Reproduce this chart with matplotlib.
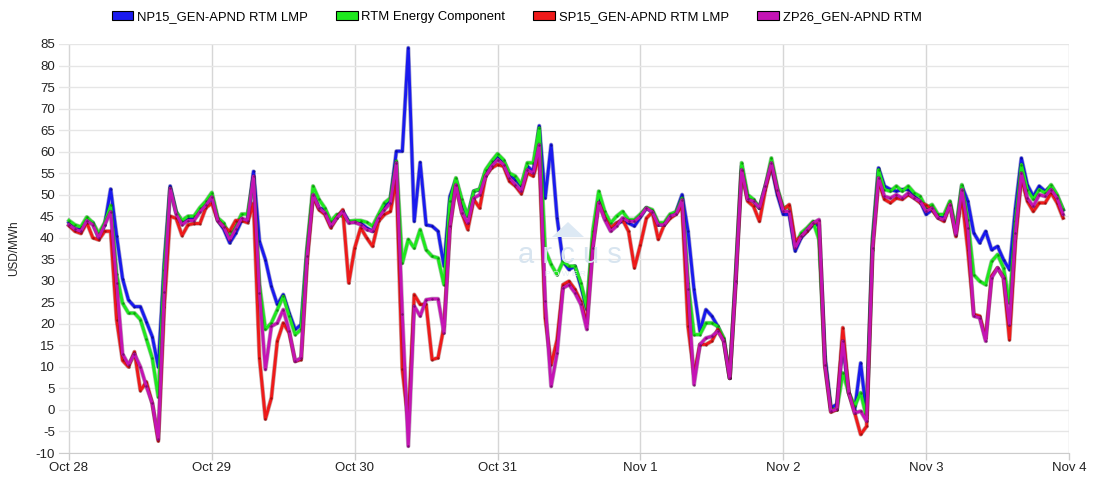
import matplotlib
matplotlib.use('Agg')
import matplotlib.pyplot as plt
import matplotlib.patheffects as pe
from matplotlib.patches import Patch, Polygon
import numpy as np

plt.rcParams['font.family'] = ['Liberation Sans', 'DejaVu Sans']
plt.rcParams['axes.unicode_minus'] = False

day_labels = ['Oct 28', 'Oct 29', 'Oct 30', 'Oct 31', 'Nov 1', 'Nov 2', 'Nov 3', 'Nov 4']
series_names = ['NP15_GEN-APND RTM LMP', 'RTM Energy Component',
                'SP15_GEN-APND RTM LMP', 'ZP26_GEN-APND RTM']

# hourly values, Oct 28 00:00 .. Nov 3 23:00
np15 = [
    43.5, 42, 42, 44, 43.5, 40, 43, 51.3, 40.5, 30.5, 25.5, 24, 24, 20.5, 17, 10, 34, 52, 46, 43.5, 44.5, 44.5, 46.5, 47.5,
    49.5, 44, 42, 38.8, 41, 44, 44, 55.4, 39.2, 34.9, 28.7, 24.5, 26.8, 22.5, 18.7, 19.8, 37.2, 50, 46.9, 46.5, 43.4, 45, 46.1, 43.8,
    43.6, 43.4, 42.3, 41.5, 45, 47.3, 48.9, 60.1, 60.1, 84.1, 43.8, 57.5, 43, 42.7, 41.5, 33.4, 49.6, 53.5, 48.1, 45, 50.8, 51.2, 55.4, 57.4,
    59.1, 57.8, 54.7, 53.5, 52, 56.6, 55.4, 66, 49.2, 61.6, 44.6, 34.5, 32.6, 33.4, 28.7, 23.3, 39.6, 48.9, 45, 41.9, 43.4, 43.8, 43.4, 42.7,
    44.8, 46.9, 46, 43, 43, 45, 46, 50, 41.5, 28, 18.3, 23.3, 21.8, 19.4, 16.3, 7.4, 30.7, 56.6, 49.2, 48.5, 46.9, 52, 56.6, 50,
    45.4, 45.4, 36.9, 40, 41.5, 43, 43, 12.5, 0.5, 1.3, 15.6, 4, 0.1, 10.9, -1.1, 39.6, 56.2, 52, 51.2, 50.8, 51.2, 51.2, 49.6, 48.5,
    45.4, 46.5, 45, 44.6, 48.1, 41.1, 52, 48.5, 41.1, 38.8, 41.5, 37.2, 38, 34.9, 32.6, 46.9, 58.5, 52.3, 49.6, 52, 50.8, 52, 49.6, 46.5,
]
energy = [
    44, 43, 42.5, 44.8, 43.5, 41, 43.5, 47.5, 31.5, 24.8, 22.5, 22.5, 21, 16.5, 12, 3, 32.5, 51.5, 46, 44, 45, 45, 47, 48.5,
    50.5, 44.6, 43.4, 40.3, 42.5, 45.5, 45.5, 53.9, 29.1, 18.7, 20.2, 23.3, 26.4, 21.8, 17.5, 18.7, 37.6, 52, 48.9, 46.9, 43.8, 45.4, 45, 43.8,
    44, 44, 43.6, 42.7, 45.4, 48.1, 49.2, 57.8, 34.1, 39.6, 37.6, 41.9, 37.2, 35.7, 35.3, 29.1, 48.5, 53.9, 48.9, 45, 50.8, 51.3, 55.8, 57.8,
    59.5, 58.1, 55, 54.3, 52.3, 57.4, 57.4, 65.5, 37.2, 33.8, 31.4, 34.5, 33.4, 33.4, 29.5, 23.7, 41.5, 50.8, 46.1, 43.4, 45, 46.1, 44.2, 44.2,
    45.5, 47, 46.5, 43.5, 43.5, 45.5, 46, 49.2, 29.5, 17.5, 17.5, 20.2, 20.2, 19.4, 16.7, 7.4, 31.1, 57.4, 50, 48.9, 46.9, 52, 58.5, 51.6,
    46.9, 47.3, 38, 41.1, 42.3, 43.8, 39.6, 10.9, 0.1, 0.1, 8.6, 4, 0.9, 4, -1.8, 39.2, 55.8, 51.2, 50.8, 52, 50.8, 52, 50.4, 49.6,
    46.9, 47.7, 45.4, 45.4, 48.5, 41.9, 52.3, 44.2, 31.4, 29.9, 29.1, 34.5, 36.1, 33, 24.9, 43.8, 57, 51.2, 48.9, 51.2, 50.4, 52.3, 50, 46.6,
]
sp15 = [
    42.8, 41.5, 41, 43.5, 40, 39.5, 41.5, 41.5, 21, 11.5, 10, 13.5, 4.5, 6.5, 1.5, -7.2, 24, 45, 44.5, 40.5, 43, 43.3, 43.3, 47,
    48, 44, 42.5, 41.5, 44, 44, 43.5, 48, 12.1, -2.1, 2.8, 16, 20.2, 17.9, 11.3, 11.7, 34.2, 49.6, 46.5, 45.4, 42.3, 44.6, 46.5, 29.5,
    37.6, 42.3, 40, 38, 43.8, 45.4, 46.1, 53.5, 9.4, -3, 26.8, 24.5, 24.5, 11.7, 12.1, 19.4, 42.3, 52, 45.8, 41.9, 48.9, 46.9, 54.3, 56.2,
    57, 56.6, 53.1, 52, 50.2, 55, 54.3, 58.9, 21.4, 10.5, 16.3, 29.1, 29.9, 28, 25.2, 20.2, 38, 48.1, 44.6, 42.3, 43.4, 44.2, 41.5, 33,
    38.4, 44.5, 46, 39.6, 43, 44.5, 45.5, 47.3, 19.4, 8.2, 15.2, 15.2, 16, 18.7, 16, 7.4, 29.5, 55.4, 48.5, 47.3, 43.8, 51.2, 57, 50.8,
    46.5, 47.7, 39.2, 40.3, 41.5, 43.4, 43.8, 10.2, -0.5, 0.1, 19.1, 4, -0.7, -5.7, -3.8, 37.2, 53.1, 48.9, 48.1, 49.2, 48.9, 50, 49.2, 48.1,
    47.6, 46.5, 44.6, 43.8, 47.7, 40.3, 49.6, 37.2, 22.2, 21.8, 16.7, 31.1, 33, 30.7, 16.3, 39.2, 53.9, 48.5, 46.1, 48.1, 48.1, 50.4, 48.1, 44.6,
]
zp26 = [
    43, 42, 41.5, 44, 43, 40, 43, 46, 29.5, 13, 10.5, 13, 10, 5.5, 1.5, -6.8, 27.5, 51.5, 45.5, 43, 44, 44, 46, 47.5,
    49.5, 44, 42.5, 39.5, 42, 44.5, 44, 54.3, 27.2, 9.4, 19.4, 20.2, 23.3, 18.3, 11.3, 12.1, 35.7, 50, 46.9, 45.8, 42.7, 44.6, 46.1, 43.4,
    43.6, 43, 41.9, 41.5, 44.6, 46.5, 48.1, 57.4, 22.2, -8.4, 24.1, 21.8, 25.6, 25.8, 25.8, 17.9, 42.7, 52.3, 45.8, 43.4, 49.2, 50, 54.3, 56.6,
    58.1, 57, 53.9, 52.3, 50.8, 55.8, 55, 61.6, 25.2, 5.5, 13.2, 28.3, 29.1, 27.2, 24.5, 18.7, 37.6, 48.1, 44.2, 41.5, 42.7, 44.6, 43.8, 43.8,
    45, 46.9, 46, 43, 43, 45, 45.5, 48.8, 28, 5.9, 15.2, 16.7, 17.1, 18.3, 16, 7.4, 29.9, 55.8, 48.9, 48.5, 46.9, 52, 57.4, 51.2,
    46.1, 46.1, 37.6, 40.3, 41.9, 43.4, 44.2, 10.5, -0.3, 0.2, 16, 4, -0.7, -0.3, -2.6, 37.6, 53.9, 49.6, 49.2, 50, 49.2, 50.4, 49.2, 48.5,
    46.1, 46.9, 44.6, 44.2, 47.7, 40.7, 51.2, 42.3, 21.8, 21.4, 16, 30.7, 33, 30.7, 19.8, 41.1, 55, 49.2, 47.3, 50, 49.6, 51.2, 49.2, 45.4,
]

colors = ['#1a1aee', '#1ee81e', '#ee1a1a', '#c414b4']
darks = ['#00006a', '#005a00', '#6a0000', '#4a0042']

hours = np.arange(len(np15))

fig = plt.figure(figsize=(11, 5), dpi=100)
ax = fig.add_axes([59 / 1100, 47 / 500, 1010 / 1100, 409 / 500])

# watermark (behind data)
tri = Polygon([[552 / 1100, 1 - 237 / 500], [568 / 1100, 1 - 222 / 500], [584 / 1100, 1 - 237 / 500]],
              closed=True, transform=fig.transFigure, facecolor='#dde9f4', edgecolor='none', zorder=0)
fig.patches.append(tri)
fig.text(570 / 1100, 1 - 255 / 500, 'a r c u s', color='#d8e5f0', fontsize=21, ha='center', va='center', zorder=0)
fig.text(565 / 1100, 1 - 274 / 500, 'P O W E R', color='#e6eef5', fontsize=6, ha='center', va='center', zorder=0)

ax.patch.set_alpha(0)

for i, (vals, col, dk) in enumerate(zip([np15, energy, sp15, zp26], colors, darks)):
    ax.plot(hours, vals, color=col, lw=2.1, zorder=3 + i, solid_joinstyle='round',
            path_effects=[pe.Stroke(linewidth=3.1, foreground=dk, alpha=0.35), pe.Normal()])
    ax.plot(hours, vals, linestyle='none', marker='o', ms=1.8, mfc=dk, mec='none',
            alpha=0.55, zorder=3.5 + i)

ax.set_xlim(-10 / 5.96, 168)
ax.set_ylim(-10, 85)
ax.set_yticks(np.arange(-10, 86, 5))
ax.set_xticks(np.arange(0, 169, 24))
ax.set_xticklabels(day_labels)

ax.grid(axis='y', color='#e6e6e6', lw=1, zorder=0)
ax.grid(axis='x', color='#d6d6d6', lw=1, zorder=0)
ax.set_axisbelow(True)
for s in ['top', 'right', 'left']:
    ax.spines[s].set_visible(False)
ax.spines['bottom'].set_color('#cccccc')
ax.tick_params(axis='y', length=0, labelsize=9.5, pad=3, colors='#222222')
ax.tick_params(axis='x', length=5, width=1, color='#cccccc', labelsize=9.5, pad=1.5, labelcolor='#222222')

fig.text(8 / 1100, 1 - 248 / 500, 'USD/MWh', rotation=90, va='center', ha='left',
         fontsize=8.5, color='#222222')

handles = [Patch(facecolor=c, edgecolor='black', linewidth=0.8) for c in colors]
fig.legend(handles, series_names, loc='upper left', bbox_to_anchor=(111.5 / 1100, 1 - 11 / 500), ncol=4,
           frameon=False, fontsize=9.4, handlelength=1.68, handleheight=0.6,
           handletextpad=0.28, columnspacing=2.15, borderpad=0, borderaxespad=0)

fig.savefig('out.png', dpi=100)
